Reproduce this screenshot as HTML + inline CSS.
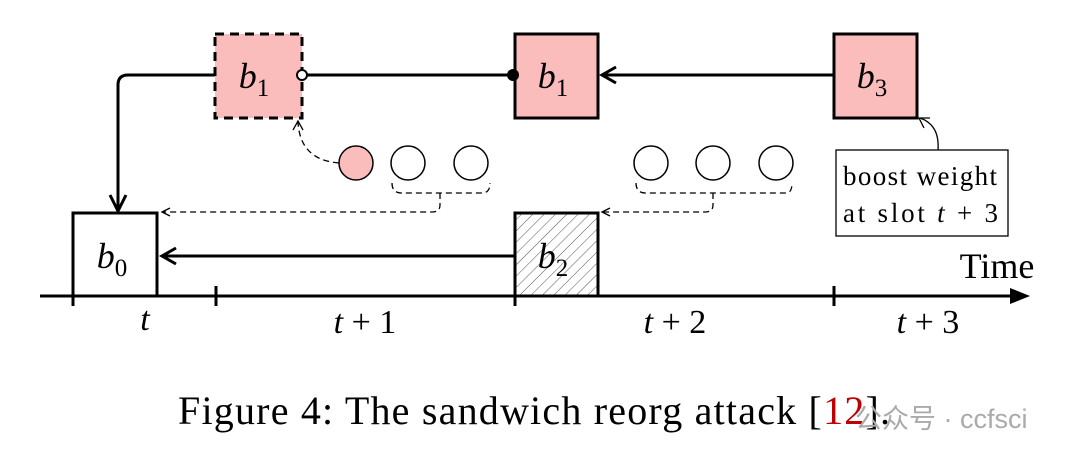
<!DOCTYPE html>
<html><head><style>body{margin:0;background:#fff}svg{display:block}</style></head><body>
<svg width="1080" height="463" viewBox="0 0 1080 463" xmlns="http://www.w3.org/2000/svg" font-family="Liberation Serif, serif">
<defs>
<pattern id="h" width="8" height="8" patternUnits="userSpaceOnUse" patternTransform="rotate(45)"><line x1="0" y1="0" x2="0" y2="8" stroke="#555" stroke-width="1"/></pattern>
</defs>
<g stroke="#000" stroke-width="3">
<rect x="215" y="34" width="87" height="84" fill="#fbbcbc" stroke-dasharray="9,6"/>
<rect x="515" y="34" width="83" height="84" fill="#fbbcbc"/>
<rect x="834" y="34" width="83" height="84" fill="#fbbcbc"/>
<rect x="73" y="213" width="84" height="83" fill="#fff"/>
<rect x="515" y="213" width="83" height="83" fill="url(#h)"/>
<line x1="40" y1="296" x2="1010" y2="296"/>
<line x1="73" y1="286" x2="73" y2="306"/>
<line x1="216" y1="286" x2="216" y2="306"/>
<line x1="515" y1="286" x2="515" y2="306"/>
<line x1="834" y1="286" x2="834" y2="306"/>
<path d="M215,75 H128 Q118,75 118,85 V210" fill="none"/>
<line x1="302" y1="75" x2="515" y2="75"/>
<line x1="834" y1="75" x2="602" y2="75"/>
<line x1="515" y1="256" x2="162" y2="256"/>
</g>
<g fill="none" stroke="#000" stroke-width="3">
<path d="M110,195 L118,211 L126,195"/>
<path d="M616,67 L602,75 L616,83"/>
<path d="M176,248 L162,256 L176,264"/>
</g>
<path d="M1010,288 L1030,296 L1010,304 Z" fill="#000"/>
<circle cx="302" cy="75" r="5" fill="#fff" stroke="#000" stroke-width="2"/>
<circle cx="513" cy="75" r="6" fill="#000"/>
<g stroke="#000" stroke-width="1.5">
<circle cx="356" cy="163" r="17" fill="#fbbcbc"/>
<circle cx="408" cy="163" r="17" fill="#fff"/>
<circle cx="471" cy="163" r="17" fill="#fff"/>
<circle cx="651" cy="163" r="17" fill="#fff"/>
<circle cx="713" cy="163" r="17" fill="#fff"/>
<circle cx="776" cy="163" r="17" fill="#fff"/>
</g>
<g fill="none" stroke="#000" stroke-width="1.3" stroke-dasharray="6,4">
<path d="M339,163 Q300,160 298,122"/>
<path d="M392,183 Q392,193 402,193 H482 Q490,193 490,183"/>
<path d="M440,193 V205 Q440,212 432,212 H162"/>
<path d="M636,183 Q636,193 646,193 H786 Q792,193 792,183"/>
<path d="M713,193 V205 Q713,212 705,212 H602"/>
</g>
<g fill="none" stroke="#000" stroke-width="1.3">
<path d="M293,130 L298,121 L303,130"/>
<path d="M170,208 L162,212 L170,216"/>
<path d="M610,208 L602,212 L610,216"/>
<path d="M938,150 Q940,125 920,118"/>
<path d="M924,128 L919,118 L930,118"/>
</g>
<rect x="836" y="150" width="172" height="86" fill="#fff" stroke="#000" stroke-width="1.3"/>
<g font-size="27" text-anchor="start">
<text x="843" y="185" textLength="154">boost weight</text>
<text x="843" y="222" textLength="155">at slot <tspan font-style="italic">t</tspan> + 3</text>
</g>
<g font-size="36" font-style="italic" text-anchor="middle">
<text x="254" y="88">b<tspan font-size="25" font-style="normal" dy="8">1</tspan></text>
<text x="553" y="88">b<tspan font-size="25" font-style="normal" dy="8">1</tspan></text>
<text x="872" y="88">b<tspan font-size="25" font-style="normal" dy="8">3</tspan></text>
<text x="112" y="268">b<tspan font-size="25" font-style="normal" dy="8">0</tspan></text>
<text x="553" y="268">b<tspan font-size="25" font-style="normal" dy="8">2</tspan></text>
</g>
<g font-size="34" text-anchor="middle">
<text x="145" y="330" font-style="italic">t</text>
<text x="365" y="333"><tspan font-style="italic">t</tspan> + 1</text>
<text x="675" y="333"><tspan font-style="italic">t</tspan> + 2</text>
<text x="928" y="333"><tspan font-style="italic">t</tspan> + 3</text>
<text x="997" y="278" font-size="36">Time</text>
</g>
<text x="178" y="424" font-size="40" textLength="712">Figure 4: The sandwich reorg attack [<tspan fill="#c00000">12</tspan>].</text>
<text x="855" y="428" font-size="27" fill="#aaa" font-family="Liberation Sans, Noto Sans CJK SC, sans-serif">公众号 · ccfsci</text>
</svg>
</body></html>
